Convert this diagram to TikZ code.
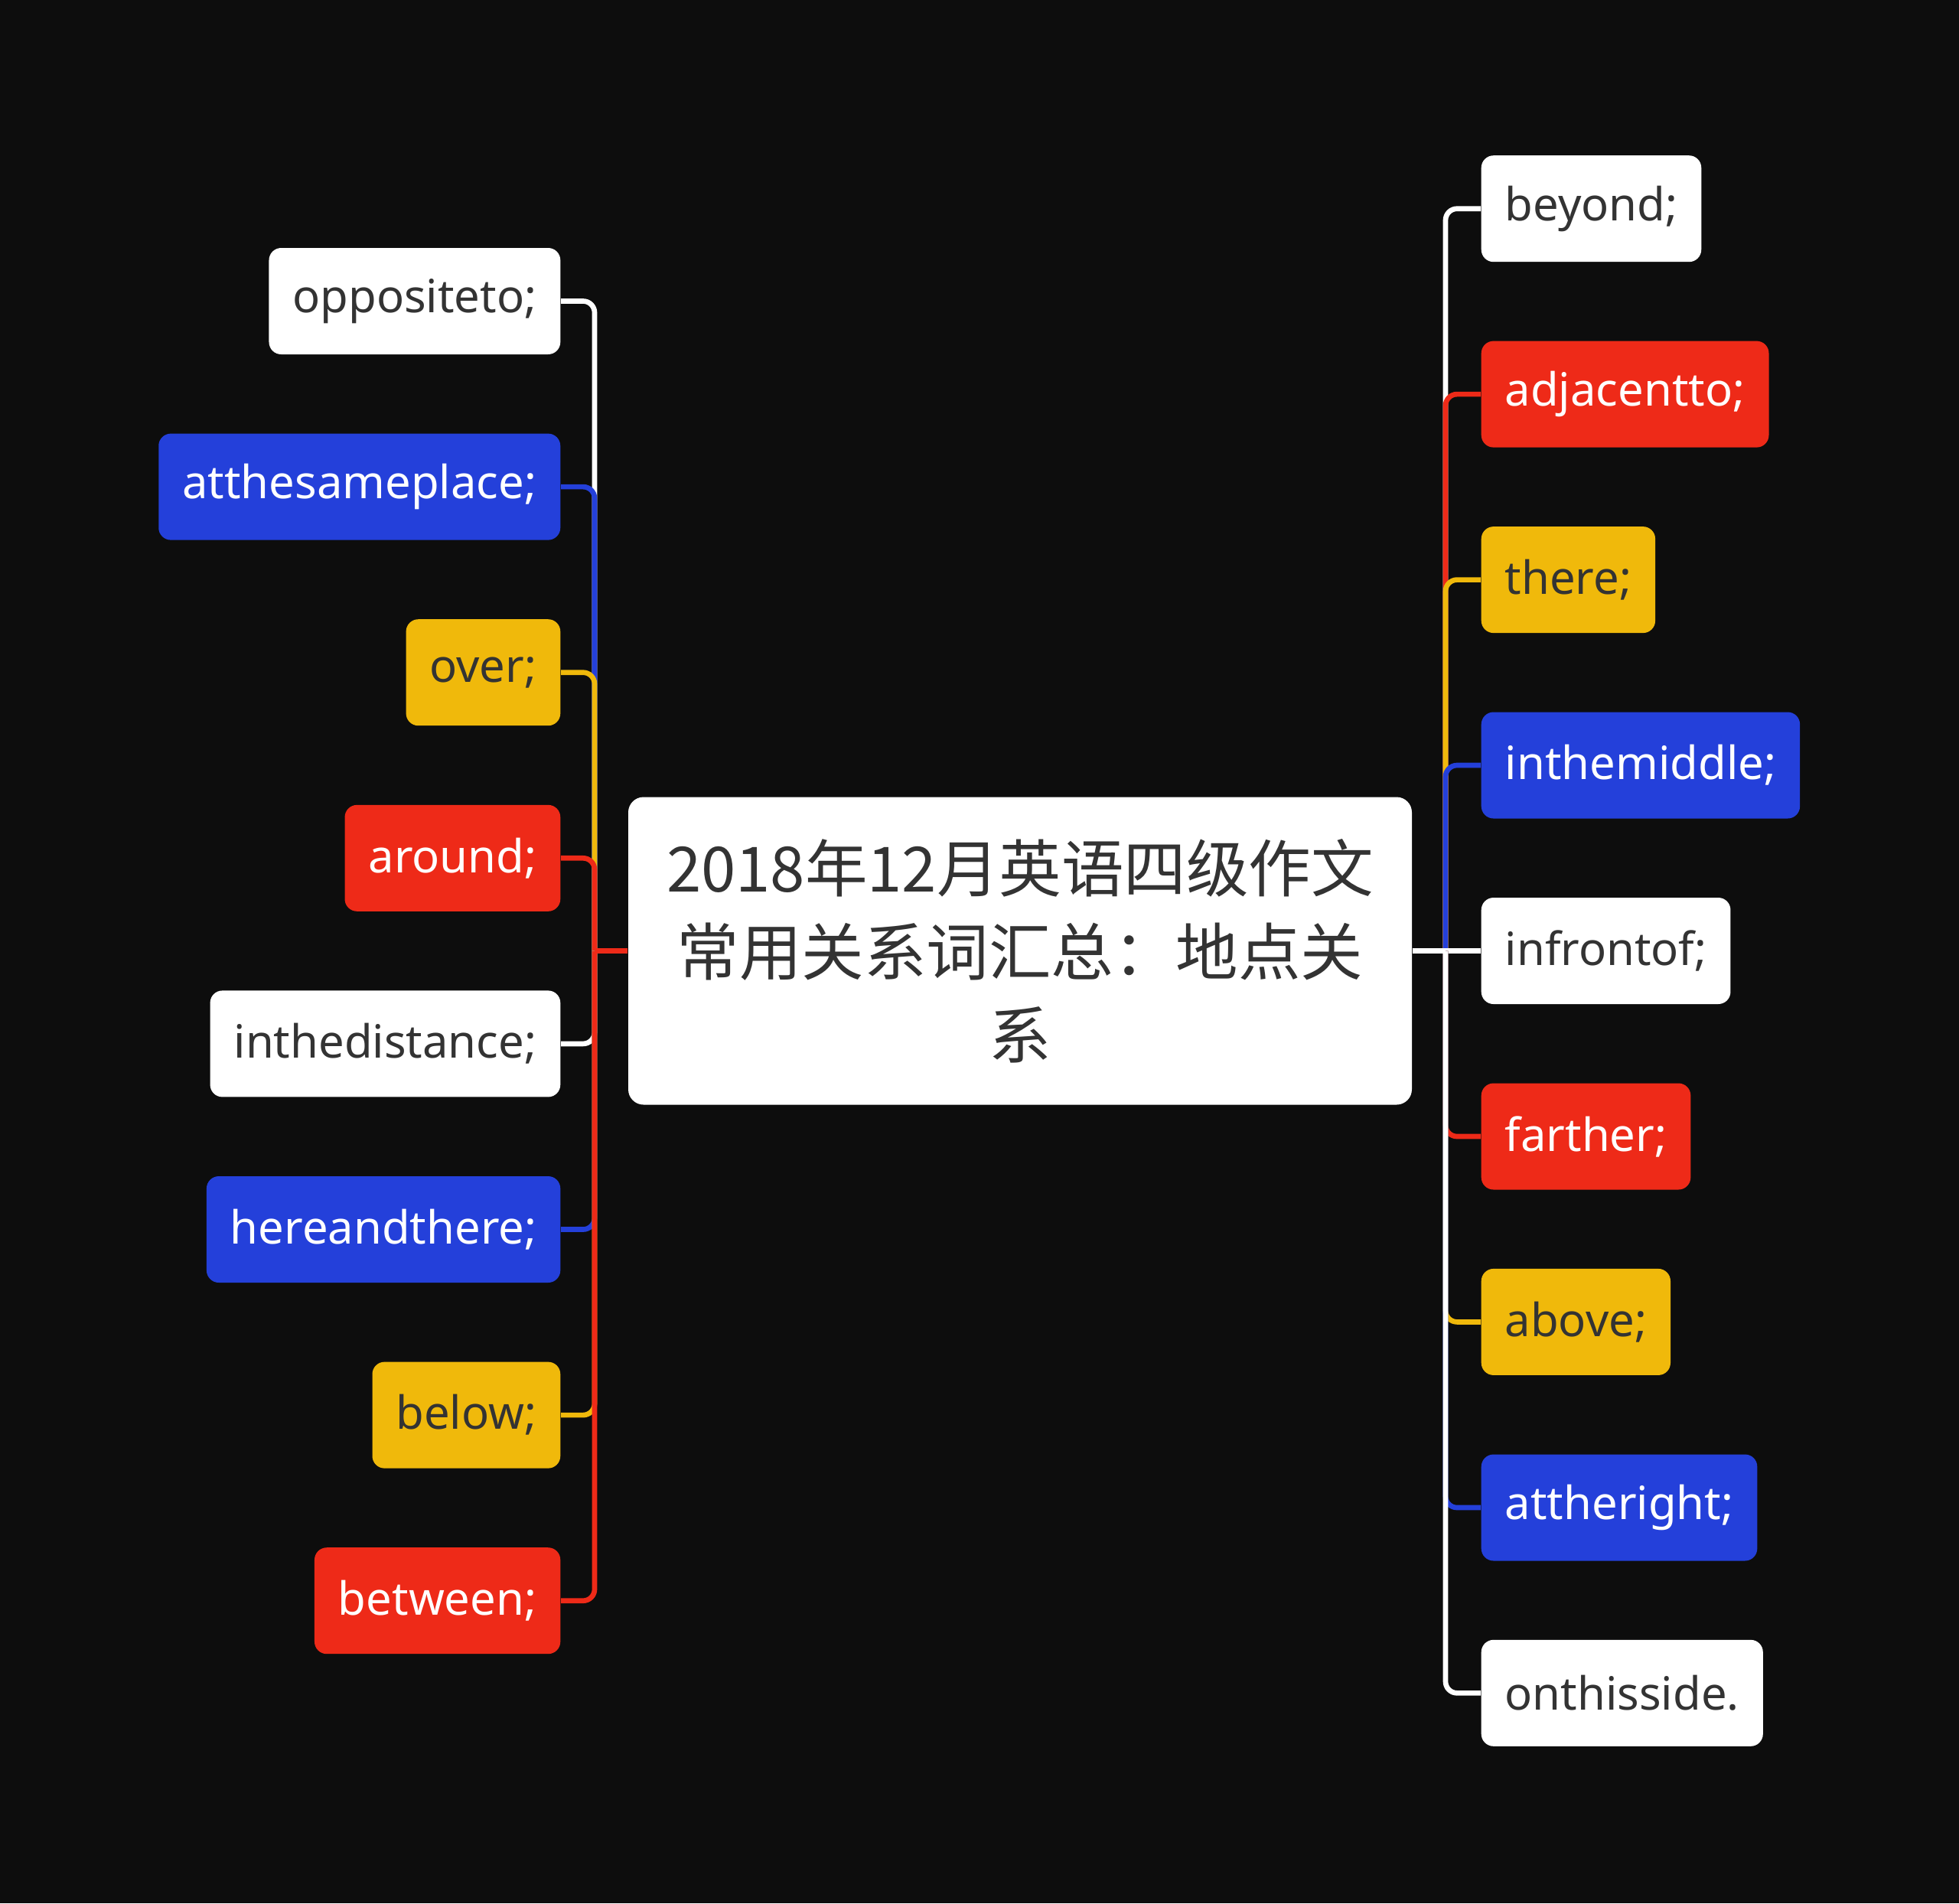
\documentclass[tikz,border=0pt]{standalone}
\usepackage{fontspec}
\setmainfont{Noto Sans}
\newfontfamily\cjkfont{Noto Sans CJK SC}
\definecolor{fondo}{HTML}{0D0D0D}
\definecolor{azul}{HTML}{2440DA}
\definecolor{rojo}{HTML}{EE2A18}
\definecolor{amarillo}{HTML}{F0B90B}
\definecolor{texto}{HTML}{333333}

\begin{document}
\begin{tikzpicture}[
  hoja/.style={rounded corners=0.16cm, minimum height=1.39cm, inner xsep=0.31cm, font=\fontsize{17}{20}\selectfont},
  blanca/.style={hoja, fill=white, text=texto},
  azulh/.style={hoja, fill=azul, text=white},
  rojah/.style={hoja, fill=rojo, text=white},
  amarillah/.style={hoja, fill=amarillo, text=texto},
  rama/.style={line width=1.9pt, rounded corners=0.15cm}]

%Fondo
\fill[fondo] (0,0) rectangle (25.6,-24.87);
\useasboundingbox (0,0) rectangle (25.6,-24.87);

%Centro
\node[fill=white, text=texto, rounded corners=0.2cm, minimum width=10.24cm, minimum height=4.02cm, align=center, font=\cjkfont\fontsize{23.2}{31}\selectfont] (centro) at (13.33,-12.425) {2018年12月英语四级作文\\常用关系词汇总：地点关\\系};
\coordinate (ti) at (7.77,-12.425);
\coordinate (td) at (18.89,-12.425);

%Izquierda
\node[blanca, anchor=east] (oppositeto) at (7.33,-3.935) {oppositeto;};
\node[azulh, anchor=east] (atthesameplace) at (7.33,-6.361) {atthesameplace;};
\node[amarillah, anchor=east] (over) at (7.33,-8.787) {over;};
\node[rojah, anchor=east] (around) at (7.33,-11.213) {around;};
\node[blanca, anchor=east] (inthedistance) at (7.33,-13.639) {inthedistance;};
\node[azulh, anchor=east] (hereandthere) at (7.33,-16.065) {hereandthere;};
\node[amarillah, anchor=east] (below) at (7.33,-18.491) {below;};
\node[rojah, anchor=east] (between) at (7.33,-20.917) {between;};

\draw[rama, white] (ti) |- (oppositeto.east);
\draw[rama, azul] (ti) |- (atthesameplace.east);
\draw[rama, amarillo] (ti) |- (over.east);
\draw[rama, rojo] (ti) |- (around.east);
\draw[rama, white] (ti) |- (inthedistance.east);
\draw[rama, azul] (ti) |- (hereandthere.east);
\draw[rama, amarillo] (ti) |- (below.east);
\draw[rama, rojo] (ti) |- (between.east);
\draw[rama, rojo] (centro.west) -- (ti);

%Derecha
\node[blanca, anchor=west] (beyond) at (19.35,-2.727) {beyond;};
\node[rojah, anchor=west] (adjacentto) at (19.35,-5.151) {adjacentto;};
\node[amarillah, anchor=west] (there) at (19.35,-7.576) {there;};
\node[azulh, anchor=west] (inthemiddle) at (19.35,-10.0) {inthemiddle;};
\node[blanca, anchor=west] (infrontof) at (19.35,-12.425) {infrontof;};
\node[rojah, anchor=west] (farther) at (19.35,-14.85) {farther;};
\node[amarillah, anchor=west] (above) at (19.35,-17.274) {above;};
\node[azulh, anchor=west] (attheright) at (19.35,-19.7) {attheright;};
\node[blanca, anchor=west] (onthisside) at (19.35,-22.123) {onthisside.};

\draw[rama, white] (td) |- (beyond.west);
\draw[rama, rojo] (td) |- (adjacentto.west);
\draw[rama, amarillo] (td) |- (there.west);
\draw[rama, azul] (td) |- (inthemiddle.west);
\draw[rama, white] (td) -- (infrontof.west);
\draw[rama, rojo] (td) |- (farther.west);
\draw[rama, amarillo] (td) |- (above.west);
\draw[rama, azul] (td) |- (attheright.west);
\draw[rama, white] (td) |- (onthisside.west);
\draw[rama, white] (centro.east) -- (td);
\end{tikzpicture}
\end{document}
